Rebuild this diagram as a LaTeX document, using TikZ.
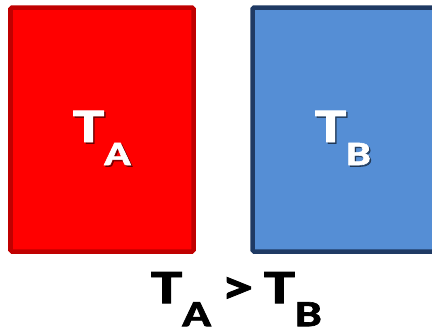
\documentclass[tikz,border=0pt]{standalone}
\usepackage{graphicx}
\usepackage{fontspec}
\setmainfont{Carlito}[BoldFeatures={FakeBold=1.6}]
\definecolor{redfill}{HTML}{FF0000}
\definecolor{redline}{HTML}{C00000}
\definecolor{bluefill}{HTML}{558ED5}
\definecolor{blueline}{HTML}{1F3A64}
\newcommand{\TSub}[2]{\scalebox{1.3}[1]{T\raisebox{-23bp}{\fontsize{#2}{#2}\selectfont #1}}}
\tikzset{
  box/.style={line width=4.5bp, rounded corners=1.5bp},
  lbl/.style={font=\bfseries\fontsize{48bp}{48bp}\selectfont, inner sep=0pt, anchor=base},
  shade/.style={lbl, text=black, opacity=0.45},
}
\begin{document}
\begin{tikzpicture}[x=1bp, y=-1bp]
\useasboundingbox (0,0) rectangle (432,331);
\begin{scope}
\clip (0,0) rectangle (432,331);
\draw[box, draw=redline, fill=redfill] (10.5,7.5) rectangle (193.5,251.5);
\draw[box, draw=blueline, fill=bluefill] (252.5,7.5) rectangle (440,251.5);
\end{scope}
\node[shade] (sa) at (103.5,143.5) {\TSub{A}{34bp}};
\node[lbl, text=white] (ta) at (102,142) {\TSub{A}{34bp}};
\node[shade] (sb) at (344.5,143.5) {\TSub{B}{34bp}};
\node[lbl, text=white] (tb) at (343,142) {\TSub{B}{34bp}};
\node[lbl, text=black] (eq) at (236.5,303.2) {\TSub{A}{37bp} \scalebox{1.3}[1]{>} \TSub{B}{37bp}};
\end{tikzpicture}
\end{document}
